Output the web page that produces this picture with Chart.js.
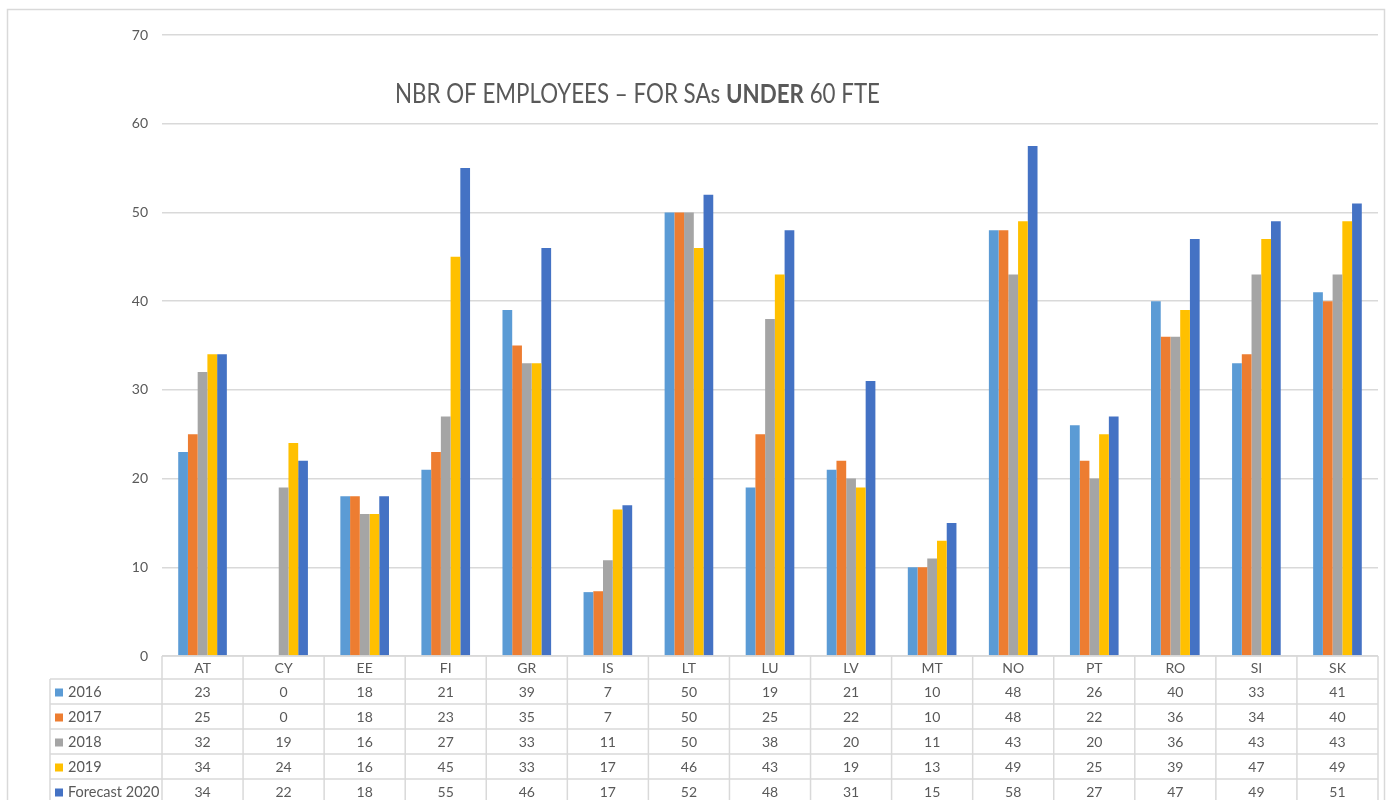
<!DOCTYPE html>
<html>
<head>
<meta charset="utf-8">
<title>NBR of employees</title>
<script src="https://cdn.jsdelivr.net/npm/chart.js@4.4.1/dist/chart.umd.min.js"></script>
<style>
  html, body { margin: 0; padding: 0; background: #fff; }
  #wrap { width: 1389px; height: 800px; position: relative; }
</style>
</head>
<body>
<div id="wrap"><canvas id="chart"></canvas></div>
<script>
const countries = ['AT', 'CY', 'EE', 'FI', 'GR', 'IS', 'LT', 'LU', 'LV', 'MT', 'NO', 'PT', 'RO', 'SI', 'SK'];

const y2016 = [23, 0, 18, 21, 39, 7.2, 50, 19, 21, 10, 48, 26, 40, 33, 41];
const y2017 = [25, 0, 18, 23, 35, 7.3, 50, 25, 22, 10, 48, 22, 36, 34, 40];
const y2018 = [32, 19, 16, 27, 33, 10.8, 50, 38, 20, 11, 43, 20, 36, 43, 43];
const y2019 = [34, 24, 16, 45, 33, 16.5, 46, 43, 19, 13, 49, 25, 39, 47, 49];
const forecast2020 = [34, 22, 18, 55, 46, 17, 52, 48, 31, 15, 57.5, 27, 47, 49, 51];

const seriesNames = ['2016', '2017', '2018', '2019', 'Forecast 2020'];
const seriesColors = ['#5B9BD5', '#ED7D31', '#A5A5A5', '#FFC000', '#4472C4'];
const seriesValues = [y2016, y2017, y2018, y2019, forecast2020];

const FONT = 'Lato, "Open Sans", sans-serif';
const TEXT_GREY = '#595959';
const LINE_GREY = '#d9d9d9';

// Outer frame, title with bold word, and the Excel-like data table under the axis
const decorPlugin = {
  id: 'decor',
  afterDraw(chart) {
    const { ctx, chartArea } = chart;
    const x = chart.scales.x;
    const colW = (chartArea.right - chartArea.left) / countries.length;
    const top = chartArea.bottom;
    const headH = 23;
    const rowH = 25;
    const legendLeft = 50;

    ctx.save();

    // frame
    ctx.strokeStyle = LINE_GREY;
    ctx.lineWidth = 1.5;
    ctx.strokeRect(7.5, 9.5, 1377, 820);

    // title (Calibri is narrow, so squeeze the fallback font to the same width)
    const parts = [
      { t: 'NBR OF EMPLOYEES \u2013 FOR SAs ', bold: false },
      { t: 'UNDER', bold: true },
      { t: ' 60 FTE', bold: false }
    ];
    const size = 27;
    let total = 0;
    parts.forEach(p => {
      ctx.font = `${p.bold ? 'bold ' : ''}${size}px ${FONT}`;
      p.w = ctx.measureText(p.t).width;
      total += p.w;
    });
    const squeeze = 485 / total;
    ctx.save();
    ctx.translate(395, 103);
    ctx.scale(squeeze, 1);
    ctx.fillStyle = TEXT_GREY;
    ctx.textBaseline = 'alphabetic';
    ctx.textAlign = 'left';
    let tx = 0;
    parts.forEach(p => {
      ctx.font = `${p.bold ? 'bold ' : ''}${size}px ${FONT}`;
      ctx.fillText(p.t, tx, 0);
      tx += p.w;
    });
    ctx.restore();

    // table grid
    ctx.strokeStyle = LINE_GREY;
    ctx.lineWidth = 1.5;
    ctx.beginPath();
    ctx.moveTo(chartArea.left, top);
    ctx.lineTo(chartArea.right, top);
    for (let r = 0; r <= seriesNames.length; r++) {
      const yy = top + headH + r * rowH;
      ctx.moveTo(legendLeft, yy);
      ctx.lineTo(chartArea.right, yy);
    }
    for (let c = 0; c <= countries.length; c++) {
      const xx = chartArea.left + c * colW;
      ctx.moveTo(xx, top);
      ctx.lineTo(xx, 820);
    }
    ctx.moveTo(legendLeft, top + headH);
    ctx.lineTo(legendLeft, 820);
    ctx.stroke();

    // header labels
    ctx.font = `14px ${FONT}`;
    ctx.fillStyle = TEXT_GREY;
    ctx.textAlign = 'center';
    ctx.textBaseline = 'middle';
    countries.forEach((c, i) => {
      ctx.fillText(c, x.getPixelForValue(i), top + headH / 2 + 1);
    });

    // rows
    seriesNames.forEach((name, r) => {
      const cy = top + headH + r * rowH + rowH / 2 + 1;
      ctx.fillStyle = seriesColors[r];
      ctx.fillRect(55, cy - 4, 8, 8);
      ctx.fillStyle = TEXT_GREY;
      ctx.textAlign = 'left';
      ctx.font = `14.5px ${FONT}`;
      ctx.fillText(name, 68, cy);
      ctx.textAlign = 'center';
      ctx.font = `14px ${FONT}`;
      seriesValues[r].forEach((v, i) => {
        ctx.fillText(String(Math.round(v)), x.getPixelForValue(i), cy);
      });
    });

    ctx.restore();
  }
};

new Chart(document.getElementById('chart'), {
  type: 'bar',
  data: {
    labels: countries,
    datasets: seriesNames.map((name, i) => ({
      label: name,
      data: seriesValues[i],
      backgroundColor: seriesColors[i],
      borderWidth: 0,
      categoryPercentage: 0.6,
      barPercentage: 1
    }))
  },
  options: {
    responsive: true,
    maintainAspectRatio: false,
    animation: false,
    layout: {
      padding: { left: 0, right: 11, top: 35, bottom: 144 }
    },
    plugins: {
      legend: { display: false },
      title: { display: false },
      tooltip: { enabled: false }
    },
    scales: {
      x: {
        display: false,
        grid: { display: false }
      },
      y: {
        min: 0,
        max: 70,
        ticks: {
          stepSize: 10,
          padding: 14,
          color: TEXT_GREY,
          font: { family: FONT, size: 14 }
        },
        grid: {
          color: LINE_GREY,
          lineWidth: 1.5,
          drawTicks: false
        },
        border: { display: false },
        afterFit(scale) {
          scale.width = 162;
        }
      }
    }
  },
  plugins: [decorPlugin]
});
</script>
</body>
</html>
